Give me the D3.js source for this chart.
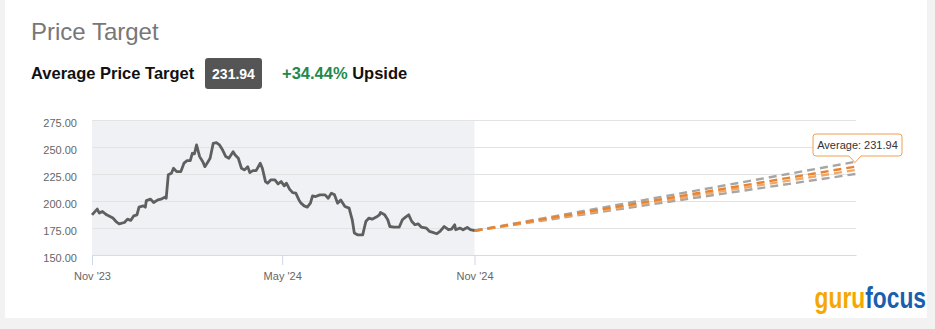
<!DOCTYPE html>
<html>
<head>
<meta charset="utf-8">
<script src="https://cdn.jsdelivr.net/npm/d3@7"></script>
<style>
  html, body { margin: 0; padding: 0; background: #f2f2f2; }
  #chart { width: 935px; height: 329px; }
  text { font-family: "Liberation Sans", Arial, sans-serif; }
</style>
</head>
<body>
<div id="chart"></div>
<script>
// price history
const priceDates = [
  "2023-11-01","2023-11-06","2023-11-08","2023-11-11","2023-11-15","2023-11-21","2023-11-24","2023-11-27",
  "2023-12-02","2023-12-05","2023-12-08","2023-12-11","2023-12-14","2023-12-16","2023-12-20","2023-12-22",
  "2023-12-23","2023-12-27","2023-12-30","2024-01-03","2024-01-06","2024-01-10","2024-01-11","2024-01-13",
  "2024-01-16","2024-01-18","2024-01-21","2024-01-25","2024-01-28","2024-01-31","2024-02-03","2024-02-05",
  "2024-02-07","2024-02-09","2024-02-12","2024-02-15","2024-02-17","2024-02-20","2024-02-22","2024-02-25",
  "2024-02-28","2024-03-02","2024-03-05","2024-03-08","2024-03-11","2024-03-15","2024-03-17","2024-03-20",
  "2024-03-23","2024-03-26","2024-03-29","2024-03-31","2024-04-03","2024-04-06","2024-04-10","2024-04-12",
  "2024-04-15","2024-04-17","2024-04-20","2024-04-24","2024-04-27","2024-04-30","2024-05-03","2024-05-05",
  "2024-05-08","2024-05-11","2024-05-14","2024-05-17","2024-05-19","2024-05-22","2024-05-25","2024-05-28",
  "2024-05-30","2024-06-02","2024-06-06","2024-06-11","2024-06-14","2024-06-17","2024-06-20","2024-06-23",
  "2024-06-26","2024-06-30","2024-07-04","2024-07-07","2024-07-09","2024-07-12","2024-07-17","2024-07-20",
  "2024-07-23","2024-07-26","2024-07-30","2024-08-02","2024-08-03","2024-08-07","2024-08-10","2024-08-12",
  "2024-08-16","2024-08-21","2024-08-24","2024-08-27","2024-08-30","2024-09-02","2024-09-05","2024-09-08",
  "2024-09-11","2024-09-16","2024-09-19","2024-09-22","2024-09-26","2024-09-29","2024-10-03","2024-10-07",
  "2024-10-10","2024-10-13","2024-10-14","2024-10-18","2024-10-21","2024-10-25","2024-10-28","2024-11-01"
];
const priceValues = [
  187.2,192.5,188.8,190.3,187.2,184.2,181.0,178.9,
  180.1,183.2,182.0,186.3,187.2,194.3,195.5,194.3,
  200.4,201.7,198.6,201.0,201.7,203.6,202.6,224.2,
  225.7,230.3,227.2,227.2,235.0,237.4,237.4,244.2,
  243.6,251.9,241.1,236.4,231.8,236.4,239.6,253.4,
  254.0,251.9,247.2,241.1,239.6,245.7,242.6,239.6,
  230.3,228.8,231.8,226.3,228.1,228.1,235.0,230.3,
  218.0,216.5,219.5,219.5,215.8,218.0,214.0,216.5,
  211.0,207.8,207.3,201.0,198.0,195.5,194.3,198.0,
  204.8,204.1,205.7,205.7,202.6,207.3,205.7,198.0,
  201.0,194.9,193.4,182.6,170.3,168.7,168.7,181.0,
  184.2,183.2,185.1,187.2,189.3,187.2,182.6,176.4,
  175.9,175.9,182.6,185.1,187.2,181.0,178.0,178.9,
  175.9,174.9,171.8,170.9,169.7,171.8,176.4,173.4,
  174.0,178.0,173.4,174.9,173.4,175.5,173.4,172.5
];

// one-year price targets
const targetDate = "2025-11-01";
const targetNames = ["High", "Low", "Median", "Average"];
const targetValues = [236.4, 225.1, 228.8, 231.94];
const targetColors = ["#a6a6a6", "#a6a6a6", "#f0a868", "#e8832f"];

const yTicks = [150, 175, 200, 225, 250, 275];
const xTickDates = ["2023-11-01", "2024-05-01", "2024-11-01"];
const xTickLabels = ["Nov '23", "May '24", "Nov '24"];

const averageTarget = 231.94;
const upside = "+34.44%";

const parse = d3.utcParse("%Y-%m-%d");
const W = 935, H = 329;

const svg = d3.select("#chart").append("svg")
  .attr("width", W).attr("height", H);

// card
svg.append("rect").attr("x", 5).attr("y", 0).attr("width", 922).attr("height", 318).attr("fill", "#fff");

// header
svg.append("text").attr("x", 31).attr("y", 40)
  .attr("fill", "#777").style("font-size", "24px").text("Price Target");

const hdr = svg.append("g");
hdr.append("text").attr("x", 31).attr("y", 79)
  .attr("fill", "#111").style("font-size", "16.5px").style("font-weight", "bold")
  .text("Average Price Target");
hdr.append("rect").attr("x", 205).attr("y", 58).attr("width", 57).attr("height", 31)
  .attr("rx", 3).attr("fill", "#555");
hdr.append("text").attr("x", 233.5).attr("y", 79).attr("text-anchor", "middle")
  .attr("fill", "#fff").style("font-size", "14px").style("font-weight", "bold")
  .text(averageTarget.toFixed(2));
const up = hdr.append("text").attr("x", 282).attr("y", 79)
  .style("font-size", "16.5px").style("font-weight", "bold");
up.append("tspan").attr("fill", "#1f8a4c").text(upside);
up.append("tspan").attr("fill", "#111").text(" Upside");

// scales
const x = d3.scaleUtc()
  .domain([parse(priceDates[0]), parse(targetDate)])
  .range([92, 856]);
const y = d3.scaleLinear().domain([150, 275]).range([255, 120]);

const lastDate = parse(priceDates[priceDates.length - 1]);

// history band
svg.append("rect")
  .attr("x", x.range()[0]).attr("y", y(275))
  .attr("width", x(lastDate) - x.range()[0]).attr("height", y(150) - y(275))
  .attr("fill", "#f0f1f5");

// grid
svg.append("g")
  .attr("transform", `translate(${x.range()[0]},0)`)
  .call(d3.axisLeft(y).tickValues(yTicks).tickSize(-(x.range()[1] - x.range()[0])).tickFormat(d => d.toFixed(2)))
  .call(g => g.select(".domain").remove())
  .call(g => g.selectAll(".tick line").attr("stroke", "#e3e3e3"))
  .call(g => g.selectAll(".tick text")
    .attr("x", -15).attr("dy", "0.55em")
    .attr("fill", "#666").style("font-size", "11px")
    .style("font-family", "'Liberation Sans', Arial, sans-serif"));

// x axis
svg.append("g")
  .attr("transform", `translate(0,${y(150)})`)
  .call(d3.axisBottom(x).tickValues(xTickDates.map(parse)).tickSize(10).tickSizeOuter(0)
    .tickFormat((d, i) => xTickLabels[i]))
  .call(g => g.select(".domain").attr("stroke", "#d6dbe6"))
  .call(g => g.selectAll(".tick line").attr("stroke", "#ccd6eb"))
  .call(g => g.selectAll(".tick text")
    .attr("y", 17).attr("fill", "#666").style("font-size", "11px")
    .style("font-family", "'Liberation Sans', Arial, sans-serif"));

// projections
const lastPrice = priceValues[priceValues.length - 1];
targetValues.forEach((v, i) => {
  svg.append("line")
    .attr("x1", x(lastDate)).attr("y1", y(lastPrice))
    .attr("x2", x(parse(targetDate))).attr("y2", y(v))
    .attr("stroke", targetColors[i]).attr("stroke-width", 2.4)
    .attr("stroke-dasharray", "8,5");
});

// price line
const line = d3.line()
  .x((d, i) => x(parse(priceDates[i])))
  .y(d => y(d));
svg.append("path").datum(priceValues)
  .attr("d", line).attr("fill", "none")
  .attr("stroke", "#5f5f5f").attr("stroke-width", 2.8)
  .attr("stroke-linejoin", "round");

// tooltip
const tx = x(parse(targetDate)), ty = y(averageTarget);
const tip = svg.append("g");
const bx = 813, by = 134, bw = 89, bh = 22;
tip.append("path")
  .attr("d", `M${bx + 3},${by} H${bx + bw - 3} Q${bx + bw},${by} ${bx + bw},${by + 3} V${bh + by - 3}
    Q${bx + bw},${by + bh} ${bx + bw - 3},${by + bh} H${tx + 5} L${tx - 1},${ty - 4} L${tx - 7},${by + bh}
    H${bx + 3} Q${bx},${by + bh} ${bx},${by + bh - 3} V${by + 3} Q${bx},${by} ${bx + 3},${by} Z`)
  .attr("fill", "#fff").attr("stroke", "#f0a050").attr("stroke-width", 1);
tip.append("text").attr("x", bx + bw / 2).attr("y", by + 15).attr("text-anchor", "middle")
  .attr("fill", "#333").style("font-size", "11px")
  .text("Average: " + averageTarget.toFixed(2));

// logo (condensed by horizontal scaling)
const logo = svg.append("text")
  .attr("transform", "translate(926,308) scale(0.76,1)")
  .attr("text-anchor", "end")
  .style("font-size", "30px").style("font-weight", "bold");
logo.append("tspan").attr("fill", "#f5a800").text("guru");
logo.append("tspan").attr("fill", "#1a5fae").text("focus");
</script>
</body>
</html>
